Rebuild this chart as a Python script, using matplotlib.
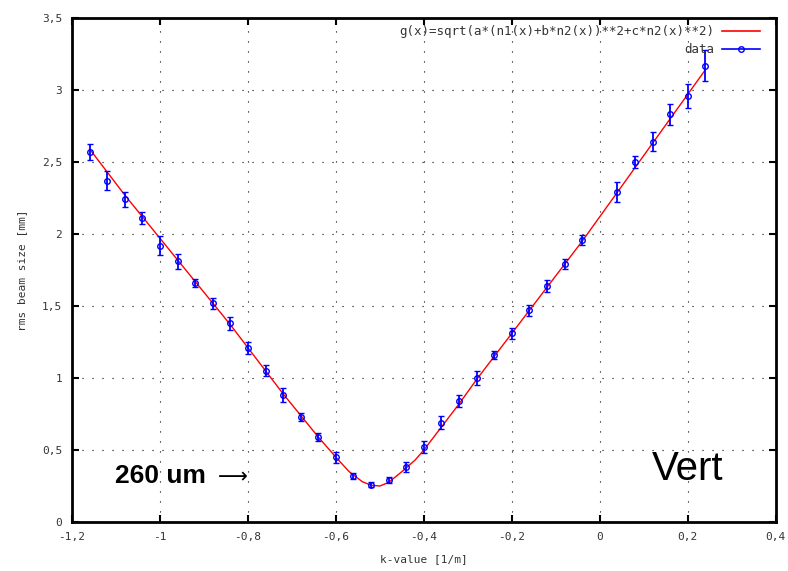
import matplotlib
matplotlib.use("Agg")
import matplotlib.pyplot as plt
from matplotlib.lines import Line2D
from matplotlib.ticker import FuncFormatter, MultipleLocator

# ===============================
# DATA
# ===============================
k_values = [-1.16, -1.12, -1.08, -1.04, -1.00, -0.96, -0.92, -0.88, -0.84, -0.80,
            -0.76, -0.72, -0.68, -0.64, -0.60, -0.56, -0.52, -0.48, -0.44, -0.40,
            -0.36, -0.32, -0.28, -0.24, -0.20, -0.16, -0.12, -0.08, -0.04,
            0.04, 0.08, 0.12, 0.16, 0.20, 0.24]
beam_size = [2.57, 2.37, 2.24, 2.11, 1.92, 1.81, 1.66, 1.52, 1.38, 1.21,
             1.05, 0.88, 0.73, 0.59, 0.45, 0.32, 0.26, 0.29, 0.38, 0.52,
             0.69, 0.84, 1.00, 1.16, 1.31, 1.47, 1.64, 1.79, 1.96,
             2.29, 2.50, 2.64, 2.83, 2.96, 3.17]
beam_err = [0.055, 0.065, 0.05, 0.043, 0.066, 0.052, 0.03, 0.038, 0.046, 0.04,
            0.037, 0.05, 0.03, 0.027, 0.038, 0.02, 0.015, 0.02, 0.035, 0.04,
            0.046, 0.04, 0.046, 0.03, 0.04, 0.04, 0.04, 0.035, 0.035,
            0.07, 0.045, 0.065, 0.07, 0.085, 0.11]

fit_x = [-1.16, -1.12, -1.08, -1.04, -1.00, -0.96, -0.92, -0.88, -0.84, -0.80,
         -0.76, -0.72, -0.68, -0.64, -0.60, -0.57, -0.54, -0.52, -0.50, -0.48,
         -0.45, -0.42, -0.40, -0.36, -0.32, -0.28, -0.24, -0.20, -0.16, -0.12,
         -0.08, -0.04, 0.00, 0.04, 0.08, 0.12, 0.16, 0.20, 0.24]
fit_y = [2.59, 2.43, 2.27, 2.12, 1.97, 1.82, 1.67, 1.52, 1.37, 1.21,
         1.05, 0.89, 0.74, 0.59, 0.45, 0.35, 0.28, 0.255, 0.25, 0.275,
         0.35, 0.43, 0.50, 0.66, 0.82, 0.99, 1.15, 1.31, 1.47, 1.63,
         1.79, 1.95, 2.12, 2.29, 2.46, 2.63, 2.80, 2.97, 3.14]

fit_label = "g(x)=sqrt(a*(n1(x)+b*n2(x))**2+c*n2(x)**2)"

# ===============================
# PLOT
# ===============================
plt.rcParams["font.family"] = "DejaVu Sans Mono"
TXT = "#333333"

fig = plt.figure(figsize=(7.88, 5.71), dpi=100)
ax = fig.add_axes([0.0914, 0.0858, 0.893, 0.8827])

ax.plot(fit_x, fit_y, color="red", lw=1.0, zorder=3)
ax.errorbar(k_values, beam_size, yerr=beam_err, fmt="o", color="blue",
            ms=4, mfc="none", mew=1.0, elinewidth=1.3, capsize=2.5,
            capthick=1.2, zorder=4)

ax.set_xlim(-1.2, 0.4)
ax.set_ylim(0, 3.5)
ax.xaxis.set_major_locator(MultipleLocator(0.2))
ax.yaxis.set_major_locator(MultipleLocator(0.5))


def comma_fmt(v, pos):
    s = f"{v:.1f}" if abs(v - round(v)) > 1e-9 else f"{int(round(v))}"
    return s.replace(".", ",")


ax.xaxis.set_major_formatter(FuncFormatter(comma_fmt))
ax.yaxis.set_major_formatter(FuncFormatter(comma_fmt))

ax.grid(True, color="black", linestyle=(0, (1, 8)), linewidth=0.8)
ax.tick_params(direction="in", length=5, width=1.5, top=True, right=True,
               labelsize=8, colors="black", labelcolor=TXT, pad=7)
for s in ax.spines.values():
    s.set_linewidth(2)

ax.set_xlabel("k-value [1/m]", fontsize=8, color=TXT, labelpad=9)
ax.set_ylabel("rms beam size [mm]", fontsize=8, color=TXT, labelpad=11)

# annotations
ax.text(-1.102, 0.27, "260 um", fontsize=19, fontweight="bold",
        family="Liberation Sans", color="black", va="baseline")
ax.text(-0.868, 0.27, "\u27f6", fontsize=15, family="DejaVu Sans",
        color="black", va="baseline")
ax.text(0.118, 0.29, "Vert", fontsize=29, family="Liberation Sans",
        color="black", va="baseline")

handles = [Line2D([], [], color="red", lw=1.2),
           Line2D([], [], color="blue", lw=1.2, marker="o", ms=4, mfc="none")]
ax.legend(handles, [fit_label, "data"], loc="upper right",
          bbox_to_anchor=(0.977, 0.986), markerfirst=False,
          frameon=False, fontsize=9, handlelength=3.0, labelspacing=0.4,
          borderaxespad=0, borderpad=0, handletextpad=0.6, labelcolor=TXT)

fig.savefig("out.png", dpi=100)
